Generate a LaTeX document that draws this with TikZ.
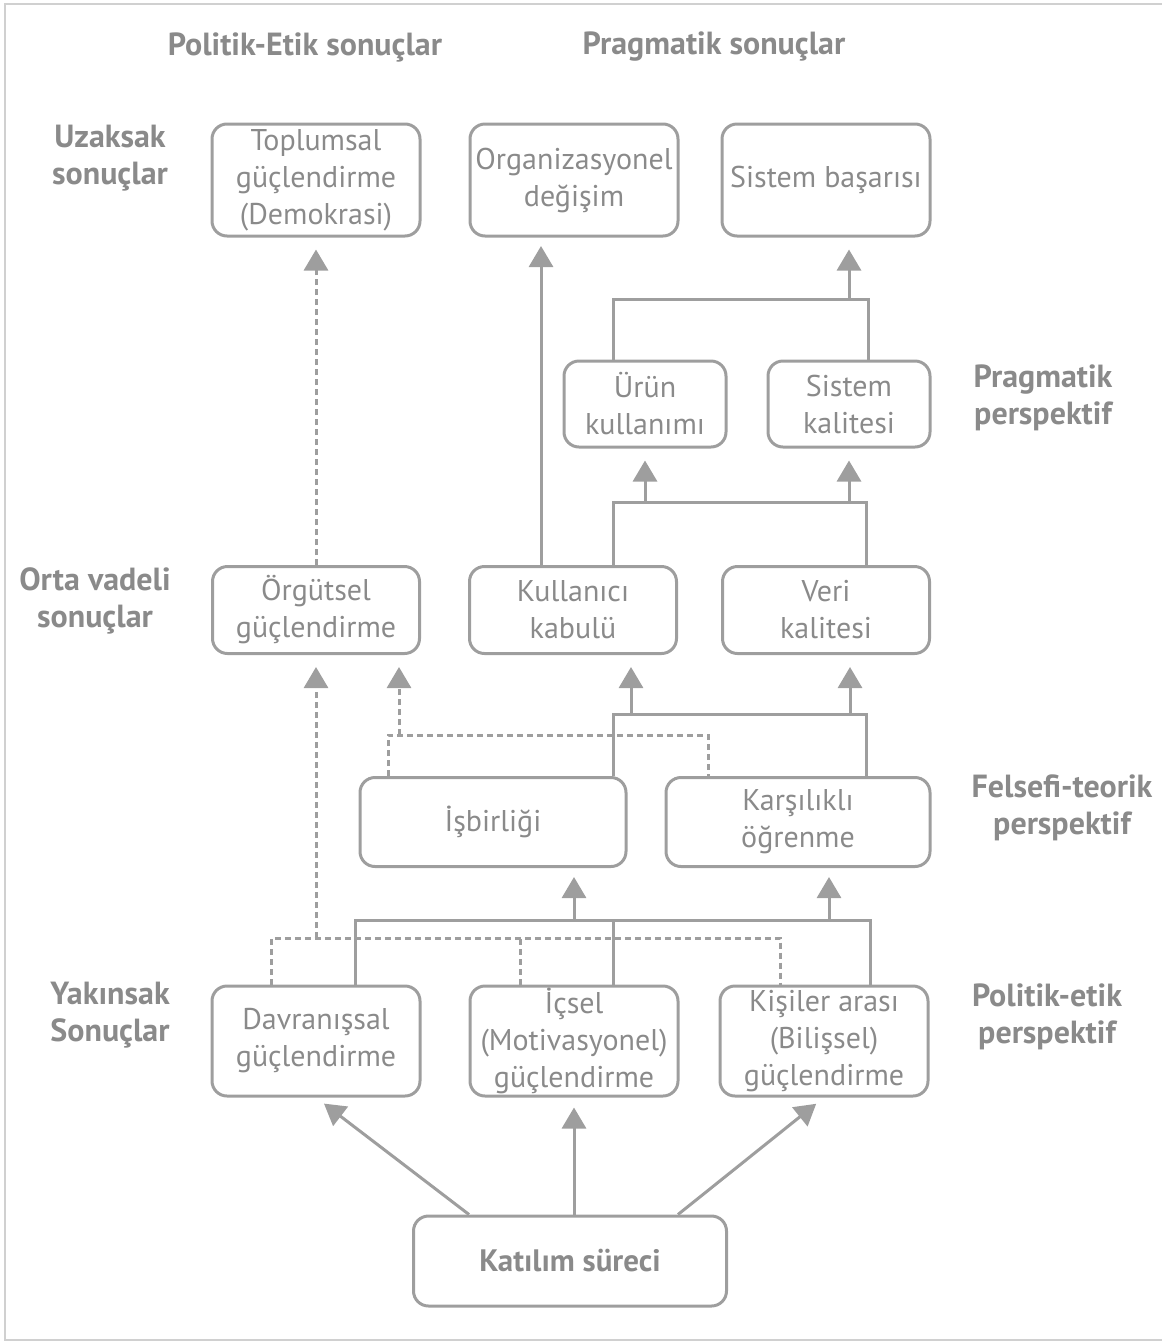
\documentclass[tikz,border=0pt]{standalone}
\usepackage{fontspec}
\setmainfont{PT Sans}
\usetikzlibrary{arrows.meta,calc}
\definecolor{boxgray}{RGB}{158,158,158}
\definecolor{txtgray}{RGB}{138,138,138}
\definecolor{framegray}{RGB}{208,208,208}

\begin{document}
\begin{tikzpicture}[x=1pt, y=-1pt,
	box/.style={draw=boxgray, line width=3pt, rounded corners=15pt, text=txtgray, align=center, inner sep=0pt, font=\fontsize{30}{37}\selectfont},
	lab/.style={text=txtgray, align=center, inner sep=0pt, font=\fontsize{32}{37}\selectfont\bfseries},
	conn/.style={draw=boxgray, line width=3pt},
	arr/.style={conn, -{Triangle[width=24pt,length=21pt]}, shorten >=12pt},
	dotline/.style={dash pattern=on 6pt off 4pt}]
	\useasboundingbox (0,0) rectangle (1162,1342);
	\draw[framegray, line width=2.5pt] (1162,4) -- (5,4) -- (5,1340) -- (1162,1340);

	% labels
	\node[lab] (polsonuc) at (305,47) {Politik-Etik sonuçlar};
	\node[lab] (pragsonuc) at (714,47) {Pragmatik sonuçlar};
	\node[lab] (uzak) at (110,158) {Uzaksak\\sonuçlar};
	\node[lab] (orta) at (95,601) {Orta vadeli\\sonuçlar};
	\node[lab] (yakin) at (110,1015) {Yakınsak\\Sonuçlar};
	\node[lab] (pragper) at (1043,398) {Pragmatik\\perspektif};
	\node[lab] (felper) at (1062,808) {Felsefi-teorik\\perspektif};
	\node[lab] (polper) at (1047,1017) {Politik-etik\\perspektif};

	% boxes
	\node[box, minimum width=208pt, minimum height=112pt] (toplum) at (316,180) {Toplumsal\\güçlendirme\\(Demokrasi)};
	\node[box, minimum width=208pt, minimum height=112pt] (orgdeg) at (574,180) {Organizasyonel\\değişim};
	\node[box, minimum width=208pt, minimum height=112pt] (sbasari) at (826,180) {Sistem başarısı};
	\node[box, minimum width=162pt, minimum height=86pt] (urun) at (645,404) {Ürün\\kullanımı};
	\node[box, minimum width=162pt, minimum height=86pt] (sisk) at (849,404) {Sistem\\kalitesi};
	\node[box, minimum width=207pt, minimum height=87pt] (orgut) at (316,610) {Örgütsel\\güçlendirme};
	\node[box, minimum width=207pt, minimum height=87pt] (kabul) at (573,610) {Kullanıcı\\kabulü};
	\node[box, minimum width=207pt, minimum height=87pt] (veri) at (826,610) {Veri\\kalitesi};
	\node[box, minimum width=266pt, minimum height=89pt] (isbir) at (493,822) {İşbirliği};
	\node[box, minimum width=264pt, minimum height=89pt] (ogren) at (798,822) {Karşılıklı\\öğrenme};
	\node[box, minimum width=208pt, minimum height=110pt] (davr) at (316,1041) {Davranışsal\\güçlendirme};
	\node[box, minimum width=208pt, minimum height=110pt] (icsel) at (574,1041) {İçsel\\(Motivasyonel)\\güçlendirme};
	\node[box, minimum width=208pt, minimum height=110pt] (kisi) at (824,1041) {Kişiler arası\\(Bilişsel)\\güçlendirme};
	\node[box, font=\fontsize{31}{37}\selectfont\bfseries, minimum width=313pt, minimum height=90pt] (katilim) at (570,1261) {Katılım süreci};

	% bar points
	\coordinate (ba) at (849,299);
	\coordinate (bb1) at (645,502);
	\coordinate (bb2) at (849,502);
	\coordinate (bc1) at (631,714);
	\coordinate (bc2) at (850,714);
	\coordinate (bd) at (399,735);
	\coordinate (be1) at (574,920);
	\coordinate (be2) at (829,920);
	\coordinate (bf) at (316,938);

	% upper connectors
	\draw[arr, dotline] (orgut.north) -- (toplum.south);
	\draw[arr] ([xshift=-32pt]kabul.north) -- ++(0,-331);
	\draw[conn] ([xshift=-32pt]urun.north) |- (ba) -| ([xshift=19pt]sisk.north);
	\draw[arr] (ba) -- (ba |- sbasari.south);
	\draw[conn] ([xshift=40pt]kabul.north) |- (bb1) -- (bb2) -| ([xshift=40pt]veri.north);
	\draw[arr] (bb1) -- (urun.south);
	\draw[arr] (bb2) -- (sisk.south);

	% middle connectors
	\draw[conn] ([xshift=120pt]isbir.north) |- (bc1) -- (bc2) -| ([xshift=68pt]ogren.north);
	\draw[arr] (bc1) -- (bc1 |- kabul.south);
	\draw[arr] (bc2) -- (bc2 |- veri.south);
	\draw[conn, dotline] ([xshift=-105pt]isbir.north) |- (bd) -| ([xshift=-90pt]ogren.north);
	\draw[arr, dotline] (bd) -- (bd |- orgut.south);

	% lower connectors
	\draw[conn] ([xshift=39pt]davr.north) |- (be1) -- (be2) -| ([xshift=46pt]kisi.north);
	\draw[conn] ([xshift=39pt]icsel.north) -- ++(0,-66);
	\draw[arr, shorten >=9pt] (be1) -- (be1 |- isbir.south);
	\draw[arr, shorten >=9pt] (be2) -- (be2 |- ogren.south);
	\draw[conn, dotline] ([xshift=-45pt]davr.north) |- (bf) -| ([xshift=-44pt]kisi.north);
	\draw[conn, dotline] ([xshift=-54pt]icsel.north) -- ++(0,-48);
	\draw[arr, dotline] (bf) -- (orgut.south);

	% from Katilim
	\draw[arr, shorten >=10pt] ([xshift=-101pt]katilim.north) -- (davr.south);
	\draw[arr, shorten >=10pt] (icsel.south |- katilim.north) -- (icsel.south);
	\draw[arr, shorten >=10pt] ([xshift=108pt]katilim.north) -- (kisi.south);
\end{tikzpicture}
\end{document}
